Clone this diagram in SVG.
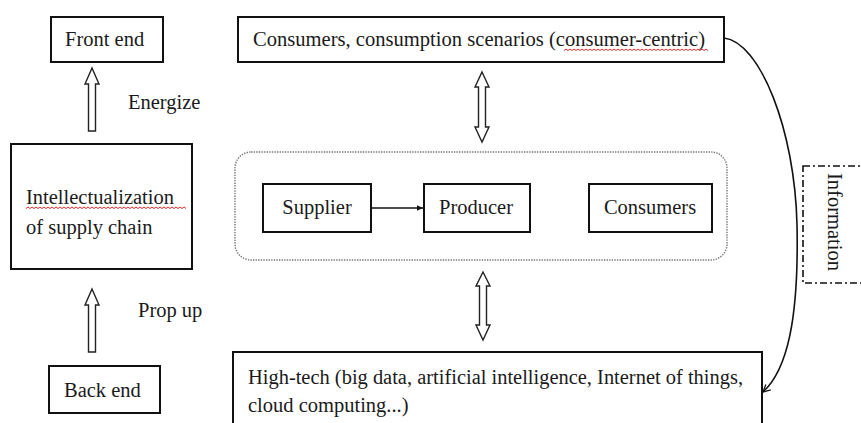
<svg xmlns="http://www.w3.org/2000/svg" width="861" height="423" viewBox="0 0 861 423">
  <defs>
    <style>
      .box { fill: #fff; stroke: #111; stroke-width: 2; }
      .lbl { font-family: "Liberation Serif", "Times New Roman", serif; font-size: 20.5px; fill: #1a1a1a; }
      .fat { fill: #fff; stroke: #222; stroke-width: 1.4; stroke-linejoin: miter; }
      .wave { fill: none; stroke: #e03030; stroke-width: 1; }
      .line { fill: none; stroke: #111; stroke-width: 1.6; }
    </style>
    <marker id="tip" viewBox="0 0 10 10" refX="9" refY="5" markerWidth="7" markerHeight="7" orient="auto" markerUnits="userSpaceOnUse">
      <path d="M0,1 L9,5 L0,9 Z" fill="#111"/>
    </marker>
    <marker id="open" viewBox="0 0 10 10" refX="9" refY="5" markerWidth="9" markerHeight="9" orient="auto" markerUnits="userSpaceOnUse">
      <path d="M1,1 L9,5 L1,9" fill="none" stroke="#111" stroke-width="1.4"/>
    </marker>
  </defs>

  <rect width="861" height="423" fill="#fff"/>

  <!-- left column -->
  <g id="front-end">
    <rect class="box" x="51" y="17" width="112" height="45"/>
    <text class="lbl" x="65" y="46">Front end</text>
  </g>
  <g id="intellectualization">
    <rect class="box" x="11" y="144" width="181" height="125"/>
    <text class="lbl" x="26" y="204">Intellectualization</text>
    <text class="lbl" x="26" y="234">of supply chain</text>
    <path class="wave" d="M26,208.5 l2,-1.5 l2,1.5 l2,-1.5 l2,1.5 l2,-1.5 l2,1.5 l2,-1.5 l2,1.5 l2,-1.5 l2,1.5 l2,-1.5 l2,1.5 l2,-1.5 l2,1.5 l2,-1.5 l2,1.5 l2,-1.5 l2,1.5 l2,-1.5 l2,1.5 l2,-1.5 l2,1.5 l2,-1.5 l2,1.5 l2,-1.5 l2,1.5 l2,-1.5 l2,1.5 l2,-1.5 l2,1.5 l2,-1.5 l2,1.5 l2,-1.5 l2,1.5 l2,-1.5 l2,1.5 l2,-1.5 l2,1.5 l2,-1.5 l2,1.5 l2,-1.5 l2,1.5 l2,-1.5 l2,1.5 l2,-1.5 l2,1.5 l2,-1.5 l2,1.5 l2,-1.5 l2,1.5 l2,-1.5 l2,1.5 l2,-1.5 l2,1.5 l2,-1.5 l2,1.5 l2,-1.5 l2,1.5 l2,-1.5 l2,1.5 l2,-1.5 l2,1.5 l2,-1.5 l2,1.5 l2,-1.5 l2,1.5 l2,-1.5 l2,1.5 l2,-1.5 l2,1.5 l2,-1.5 l2,1.5 l2,-1.5 l2,1.5 l2,-1.5 l2,1.5 l2,-1.5 l2,1.5 l2,-1.5 l2,1.5"/>
  </g>
  <g id="back-end">
    <rect class="box" x="49" y="366" width="111" height="47"/>
    <text class="lbl" x="64" y="397">Back end</text>
  </g>
  <text class="lbl" x="128" y="109">Energize</text>
  <text class="lbl" x="138" y="317">Prop up</text>

  <!-- top consumers node -->
  <g id="consumers-top">
    <rect class="box" x="238" y="17" width="486" height="45"/>
    <text class="lbl" x="253" y="46" textLength="452" lengthAdjust="spacingAndGlyphs">Consumers, consumption scenarios (consumer-centric)</text>
    <path class="wave" d="M564,50.5 l2,-1.5 l2,1.5 l2,-1.5 l2,1.5 l2,-1.5 l2,1.5 l2,-1.5 l2,1.5 l2,-1.5 l2,1.5 l2,-1.5 l2,1.5 l2,-1.5 l2,1.5 l2,-1.5 l2,1.5 l2,-1.5 l2,1.5 l2,-1.5 l2,1.5 l2,-1.5 l2,1.5 l2,-1.5 l2,1.5 l2,-1.5 l2,1.5 l2,-1.5 l2,1.5 l2,-1.5 l2,1.5 l2,-1.5 l2,1.5 l2,-1.5 l2,1.5 l2,-1.5 l2,1.5 l2,-1.5 l2,1.5 l2,-1.5 l2,1.5 l2,-1.5 l2,1.5 l2,-1.5 l2,1.5 l2,-1.5 l2,1.5 l2,-1.5 l2,1.5 l2,-1.5 l2,1.5 l2,-1.5 l2,1.5 l2,-1.5 l2,1.5 l2,-1.5 l2,1.5 l2,-1.5 l2,1.5 l2,-1.5 l2,1.5 l2,-1.5 l2,1.5 l2,-1.5 l2,1.5 l2,-1.5 l2,1.5 l2,-1.5 l2,1.5 l2,-1.5 l2,1.5 l2,-1.5 l2,1.5"/>
  </g>

  <!-- supply chain group -->
  <g id="chain-group">
    <rect x="235" y="152" width="492" height="108" rx="16" ry="16" fill="none" stroke="#777" stroke-width="1.4" stroke-dasharray="1.4 1.2"/>
  </g>
  <g id="supplier">
    <rect class="box" x="263" y="184" width="108" height="48"/>
    <text class="lbl" x="317" y="214" text-anchor="middle">Supplier</text>
  </g>
  <g id="producer">
    <rect class="box" x="424" y="184" width="106" height="48"/>
    <text class="lbl" x="476" y="214" text-anchor="middle">Producer</text>
  </g>
  <g id="consumers">
    <rect class="box" x="589" y="184" width="123" height="48"/>
    <text class="lbl" x="650" y="214" text-anchor="middle">Consumers</text>
  </g>

  <!-- high-tech base -->
  <g id="high-tech">
    <rect class="box" x="233" y="352" width="529" height="80"/>
    <text class="lbl" x="248" y="384" textLength="495" lengthAdjust="spacingAndGlyphs">High-tech (big data, artificial intelligence, Internet of things,</text>
    <text class="lbl" x="248" y="412">cloud computing...)</text>
  </g>

  <!-- information label: box runs past the right edge -->
  <g id="information">
    <rect x="803" y="166" width="66" height="117" fill="none" stroke="#111" stroke-width="1.6" stroke-dasharray="7 3 2 3"/>
    <text class="lbl" transform="translate(828,222) rotate(90)" text-anchor="middle">Information</text>
  </g>

  <!-- connectors -->
  <g id="connectors">
    <!-- Energize -->
    <path class="fat" d="M92,68 L99,84 L95.5,84 L95.5,131 L88.5,131 L88.5,84 L85,84 Z"/>
    <!-- Prop up -->
    <path class="fat" d="M92,289 L99,305 L95.5,305 L95.5,352 L88.5,352 L88.5,305 L85,305 Z"/>
    <!-- consumers <-> chain -->
    <path class="fat" d="M482,72 L489,87 L485.5,87 L485.5,127 L489,127 L482,142 L475,127 L478.5,127 L478.5,87 L475,87 Z"/>
    <!-- chain <-> high-tech -->
    <path class="fat" d="M483,272 L490,286 L486.5,286 L486.5,325 L490,325 L483,340 L476,325 L479.5,325 L479.5,286 L476,286 Z"/>
    <!-- supplier -> producer -->
    <line class="line" x1="371" y1="208" x2="423" y2="208" marker-end="url(#tip)"/>
    <!-- information loop -->
    <path class="line" d="M724,38 C760,42 795,130 797,225 C799,320 787,370 763,392" marker-end="url(#open)"/>
  </g>
</svg>
